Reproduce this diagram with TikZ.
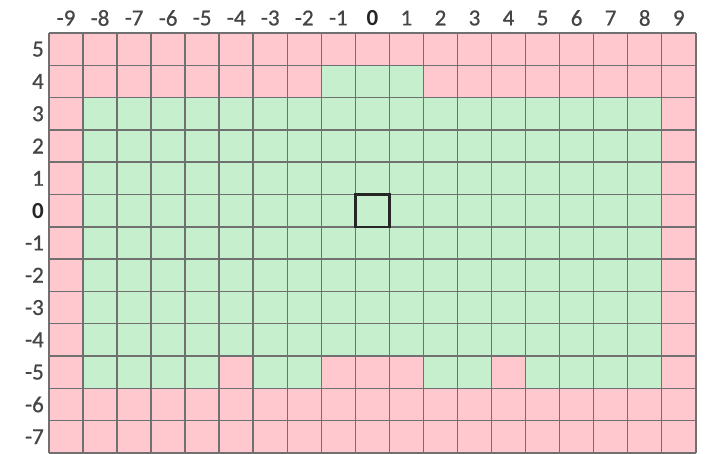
\documentclass[tikz,border=0pt]{standalone}
\usepackage{fontspec}
\setmainfont{Carlito}
\newfontface\labfont{Carlito}[FakeBold=0.7]
\definecolor{pinkc}{HTML}{FFC7CE}
\definecolor{greenc}{HTML}{C6EFCE}
\definecolor{gridc}{HTML}{707070}
\definecolor{labc}{HTML}{454545}
\begin{document}
\begin{tikzpicture}[x=1pt,y=-1pt,
  lab/.style={font=\labfont\fontsize{23}{25}\selectfont, text=labc, inner sep=0pt},
  labz/.style={font=\fontsize{23}{25}\selectfont\bfseries, text=black!85, inner sep=0pt},
  gridline/.style={draw=gridc, line width=1.5pt},
  mark0/.style={draw=black!85, line width=2.4pt}]
\def\cw{34.04}\def\ch{32.3}
\fill[white] (0,0) rectangle (710,454);
\useasboundingbox (0,0) rectangle (710,454);
% base pink
\fill[pinkc] (49,33) rectangle ({49+19*\cw},{33+13*\ch});
% green region
\fill[greenc] ({49+\cw},{33+2*\ch}) rectangle ({49+18*\cw},{33+11*\ch});
\fill[greenc] ({49+8*\cw},{33+\ch}) rectangle ({49+11*\cw},{33+2*\ch});
% pink cells in row -5
\foreach \a/\b in {5/6,8/11,13/14}
  \fill[pinkc] ({49+\a*\cw},{33+10*\ch}) rectangle ({49+\b*\cw},{33+11*\ch});
% grid lines
\foreach \i in {0,...,19}
  \draw[gridline] ({49+\i*\cw},33) -- ({49+\i*\cw},{33+13*\ch});
\foreach \j in {0,...,13}
  \draw[gridline] (49,{33+\j*\ch}) -- ({49+19*\cw},{33+\j*\ch});
% centre cell
\draw[mark0] ({49+9*\cw},{33+5*\ch}) rectangle ({49+10*\cw},{33+6*\ch});
% column labels
\foreach \c in {-9,...,-1,1,2,...,9}
  \node[lab] (col\c) at ({49+(\c+9.5)*\cw},18) {\c};
\node[labz] (col0) at ({49+9.5*\cw},18) {0};
% row labels
\foreach \r in {5,...,1,-1,-2,...,-7}
  \node[lab, anchor=east] (row\r) at (44,{33+(5.5-\r)*\ch}) {\r};
\node[labz, anchor=east] (row0) at (44,{33+5.5*\ch}) {0};
\end{tikzpicture}
\end{document}
